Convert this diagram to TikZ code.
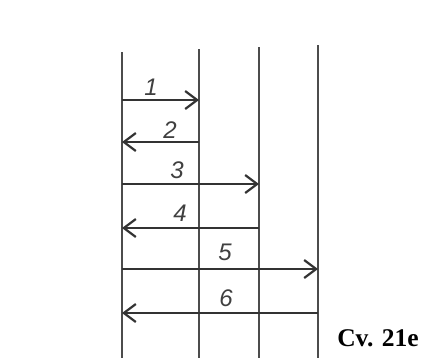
\documentclass[tikz,border=0pt]{standalone}
\usepackage{fontspec}
\setmainfont{Liberation Serif}
\setsansfont{Liberation Sans}
\usetikzlibrary{arrows.meta}

\begin{document}
\begin{tikzpicture}[
  x=1pt, y=-1pt,
  lane/.style={draw=black!70, line width=2.2pt},
  msg/.style={draw=black!80, line width=2pt,
              -{Straight Barb[length=12pt, width=18pt, line width=2.2pt]}},
  num/.style={font=\sffamily\itshape\fontsize{24}{24}\selectfont, text=black!75,
              inner sep=0pt},
  caption/.style={font=\bfseries\fontsize{25.5}{28}\selectfont, inner sep=0pt},
]
\useasboundingbox[fill=white] (0,0) rectangle (431,360);

% Lanes
\foreach \n/\x/\t in {1/122/52, 2/199/49, 3/259/47, 4/318/45} {
  \coordinate (top\n) at (\x,\t);
  \coordinate (bot\n) at (\x,358);
  \draw[lane] (top\n) -- (bot\n);
}

% Message end points
\coordinate (s1) at (122,100); \coordinate (e1) at (199,100);
\coordinate (s2) at (199,142); \coordinate (e2) at (122,142);
\coordinate (s3) at (122,184); \coordinate (e3) at (259,184);
\coordinate (s4) at (259,228); \coordinate (e4) at (122,228);
\coordinate (s5) at (122,269); \coordinate (e5) at (318,269);
\coordinate (s6) at (318,313); \coordinate (e6) at (122,313);

% Messages
\foreach \n in {1,...,6}
  \draw[msg] (s\n) -- (e\n);

% Labels
\node[num] (l1) at (151,87) {1};
\node[num] (l2) at (170,130) {2};
\node[num] (l3) at (177,170) {3};
\node[num] (l4) at (180,213) {4};
\node[num] (l5) at (225,252) {5};
\node[num] (l6) at (226,298) {6};

\node[caption] (cap) at (378,338) {Cv. 21e};
\end{tikzpicture}
\end{document}
